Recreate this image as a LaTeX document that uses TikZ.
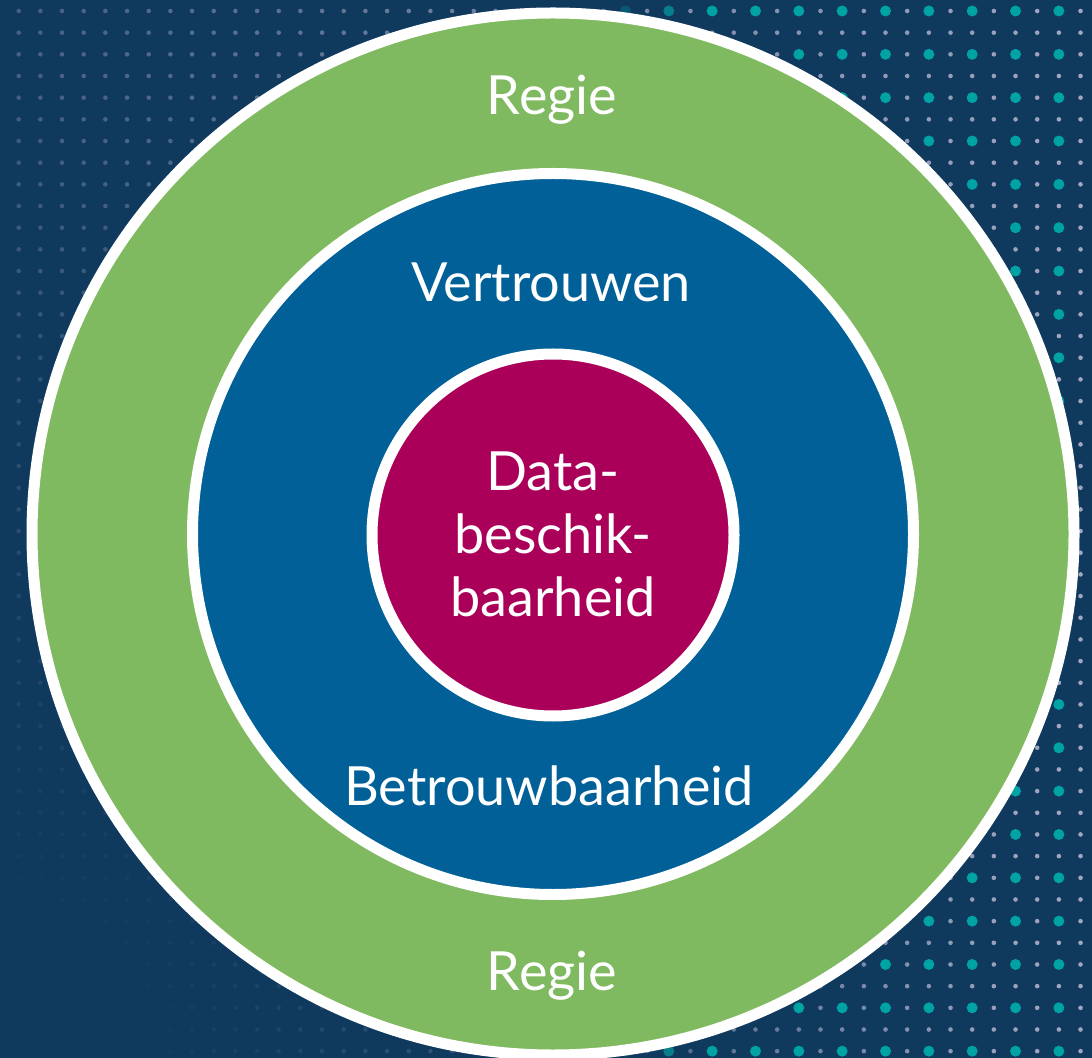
\documentclass[tikz,border=0pt]{standalone}
\usepackage{fontspec}
\setmainfont{Lato}
\definecolor{bgcol}{HTML}{10395E}
\definecolor{dotgrey}{HTML}{A3A7C3}
\definecolor{dotteal}{HTML}{00A3A3}
\definecolor{ringgreen}{HTML}{80BA60}
\definecolor{ringblue}{HTML}{006097}
\definecolor{coremag}{HTML}{AA005A}
\tikzset{
  ring/.style={draw=white, line width=5.5pt},
  lbl/.style={text=white, font=\fontsize{27}{31.5}\selectfont, inner sep=0pt, align=center}
}
\begin{document}
\begin{tikzpicture}[x=0.5pt, y=-0.5pt]
\fill[bgcol] (0,0) rectangle (1092,1058);
\useasboundingbox (0,0) rectangle (1092,1058);
% dot grid
\foreach \i in {0,...,49}{
  \foreach \j in {0,...,48}{
    \pgfmathsetmacro\px{18.7+21.67*\i}
    \pgfmathsetmacro\py{11+21.67*\j}
    \pgfmathsetmacro\dd{veclen(\px,1058-\py)}
    \pgfmathtruncatemacro\pc{100*(0.35+0.65*\px/1092)*min(1,max(0,(\dd-100)/900))}
    \fill[dotgrey!\pc!bgcol] (\px,\py) circle (1.15pt);
    \pgfmathtruncatemacro\ev{(mod(\i,2)==0)&&(mod(\j,2)==0)&&(\px>590)}
    \ifnum\ev=1
      \pgfmathtruncatemacro\tc{100*min(1,(\px-590)/120)}
      \fill[dotteal!\tc!bgcol] (\px,\py) circle (2.75pt);
    \fi
  }
}
% rings
\node[circle, ring, fill=ringgreen, minimum size=521pt, inner sep=0pt] (outer) at (553,534) {};
\node[circle, ring, fill=ringblue, minimum size=360.5pt, inner sep=0pt] (middle) at (553,534) {};
\node[circle, ring, fill=coremag, minimum size=181pt, inner sep=0pt] (core) at (553,535) {};
% labels
\node[lbl, anchor=base] (regietop) at (552,115) {Regie};
\node[lbl, anchor=base] (regiebot) at (552,990) {Regie};
\node[lbl, anchor=base] (vertr) at (551,302) {Vertrouwen};
\node[lbl, anchor=base] (betr) at (549,805) {Betrouwbaarheid};
\node[lbl, anchor=base] (data) at (553,617) {Data-\\beschik-\\baarheid};
\end{tikzpicture}
\end{document}
